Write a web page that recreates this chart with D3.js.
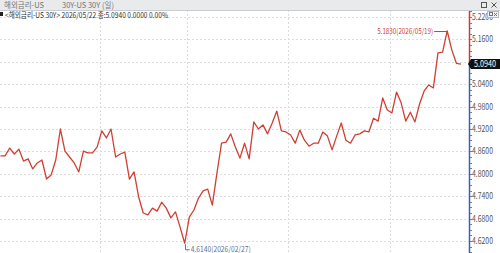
<!DOCTYPE html>
<html>
<head>
<meta charset="utf-8">
<script src="https://cdn.jsdelivr.net/npm/d3@7"></script>
<style>
  body { margin: 0; background: #fff; }
  svg { display: block; font-family: "Noto Sans CJK KR", "Liberation Sans", sans-serif; }
</style>
</head>
<body>
<script>
// constants
const width = 500;
const height = 253;
const axisX = 469;

// data: daily close, US 30Y (percent)
const values = [
  4.848, 4.848, 4.869, 4.853, 4.866, 4.834, 4.840, 4.813, 4.829, 4.837,
  4.786, 4.797, 4.837, 4.920, 4.861, 4.845, 4.829, 4.805, 4.861, 4.856,
  4.856, 4.872, 4.915, 4.896, 4.920, 4.845, 4.853, 4.858, 4.786, 4.805,
  4.738, 4.695, 4.690, 4.708, 4.700, 4.724, 4.708, 4.682, 4.698, 4.657,
  4.614, 4.684, 4.703, 4.735, 4.754, 4.759, 4.716, 4.802, 4.882, 4.885,
  4.907, 4.872, 4.842, 4.882, 4.840, 4.939, 4.920, 4.931, 4.907, 4.936,
  4.968, 4.915, 4.912, 4.904, 4.882, 4.917, 4.890, 4.874, 4.882, 4.882,
  4.912, 4.901, 4.864, 4.901, 4.936, 4.890, 4.882, 4.904, 4.907, 4.915,
  4.912, 4.949, 4.941, 5.003, 4.971, 4.963, 5.019, 4.990, 4.941, 4.965,
  4.939, 4.987, 5.022, 5.038, 5.030, 5.124, 5.126, 5.183, 5.132, 5.096,
  5.094
];
// index of first trading day of each month (Feb, Mar, Apr, May)
const monthStarts = [22, 41, 63, 85];
const yTicks = [5.22, 5.16, 5.10, 5.04, 4.98, 4.92, 4.86, 4.80, 4.74, 4.68, 4.62];
const maxLabel = { index: 97, text: "5.1830(2026/05/19)" };
const minLabel = { index: 40, text: "4.6140(2026/02/27)" };
const lastLabel = "5.0940";
const headerTexts = ["해외금리-US", "30Y-US 30Y (일)"];
const legendText = "<해외금리-US 30Y> 2026/05/22 종:5.0940 0.0000 0.00%";

const svg = d3.select("body").append("svg")
    .attr("width", width)
    .attr("height", height);

const x = d3.scaleLinear()
    .domain([0, values.length - 1])
    .range([0.5, 461]);
const y = d3.scaleLinear()
    .domain([4.62, 5.22])
    .range([241, 17]);

// grid
svg.append("g")
    .selectAll("line")
    .data(yTicks)
    .join("line")
    .attr("x1", 0)
    .attr("x2", axisX)
    .attr("y1", d => Math.round(y(d)) + 0.5)
    .attr("y2", d => Math.round(y(d)) + 0.5)
    .style("stroke", "#dcdcdc")
    .style("stroke-dasharray", "2,2");

svg.append("g")
    .selectAll("line")
    .data(monthStarts)
    .join("line")
    .attr("x1", d => Math.round(x(d - 0.5)) + 0.5)
    .attr("x2", d => Math.round(x(d - 0.5)) + 0.5)
    .attr("y1", 10)
    .attr("y2", height)
    .style("stroke", "#dcdcdc")
    .style("stroke-dasharray", "2,2");

// header bar
svg.append("rect")
    .attr("x", 0).attr("y", 0)
    .attr("width", width).attr("height", 10)
    .style("fill", "#e9eaec");
svg.append("line")
    .attr("x1", 0).attr("x2", width)
    .attr("y1", 10.5).attr("y2", 10.5)
    .style("stroke", "#c9ccd1");
svg.append("text")
    .attr("x", 4).attr("y", 8)
    .attr("textLength", 40).attr("lengthAdjust", "spacingAndGlyphs")
    .style("font-size", "8px").style("fill", "#777")
    .text(headerTexts[0]);
svg.append("text")
    .attr("x", 62).attr("y", 8)
    .attr("textLength", 52).attr("lengthAdjust", "spacingAndGlyphs")
    .style("font-size", "8px").style("fill", "#777")
    .text(headerTexts[1]);
// window buttons
svg.append("rect")
    .attr("x", 481.5).attr("y", 2.5).attr("width", 5).attr("height", 5)
    .style("fill", "none").style("stroke", "#555");
svg.append("path")
    .attr("d", "M491.5,2.5 L496.5,7.5 M496.5,2.5 L491.5,7.5")
    .style("stroke", "#555");

// legend line
svg.append("rect")
    .attr("x", 0).attr("y", 12).attr("width", 3).attr("height", 4)
    .style("fill", "#222");
svg.append("text")
    .attr("x", 5).attr("y", 17.5)
    .attr("textLength", 163).attr("lengthAdjust", "spacingAndGlyphs")
    .style("font-size", "8px").style("fill", "#333")
    .text(legendText);

// line
svg.append("path")
    .datum(values)
    .attr("d", d3.line().x((d, i) => x(i)).y(d => y(d)))
    .style("fill", "none")
    .style("stroke", "#cf3f33")
    .style("stroke-width", 1.3)
    .style("stroke-linejoin", "round");

// max annotation
const mx = x(maxLabel.index), my = y(values[maxLabel.index]);
svg.append("line")
    .attr("x1", mx - 13).attr("x2", mx)
    .attr("y1", Math.round(my) + 0.5).attr("y2", Math.round(my) + 0.5)
    .style("stroke", "#cf3f33");
svg.append("text")
    .attr("x", mx - 14).attr("y", my + 3)
    .attr("text-anchor", "end")
    .attr("textLength", 56).attr("lengthAdjust", "spacingAndGlyphs")
    .style("font-size", "8px").style("fill", "#cf3f33")
    .text(maxLabel.text);

// min annotation
const nx = x(minLabel.index), ny = y(values[minLabel.index]);
svg.append("path")
    .attr("d", `M${Math.round(nx) + 0.5},${ny + 1} V${ny + 6.5} H${nx + 5}`)
    .style("fill", "none")
    .style("stroke", "#5f7390");
svg.append("text")
    .attr("x", nx + 6).attr("y", ny + 9)
    .attr("textLength", 60).attr("lengthAdjust", "spacingAndGlyphs")
    .style("font-size", "8px").style("fill", "#5f7390")
    .text(minLabel.text);

// right axis
const lastY = y(values[values.length - 1]);
svg.append("line")
    .attr("x1", axisX + 0.5).attr("x2", axisX + 0.5)
    .attr("y1", 11).attr("y2", lastY)
    .style("stroke", "#d23a2e").style("stroke-width", 1.5);
svg.append("line")
    .attr("x1", axisX + 0.5).attr("x2", axisX + 0.5)
    .attr("y1", lastY).attr("y2", height)
    .style("stroke", "#3c63a8").style("stroke-width", 1.5);

const minorTicks = d3.range(4.575, 5.235, 0.015);
svg.append("g")
    .selectAll("line")
    .data(minorTicks)
    .join("line")
    .attr("x1", axisX + 1)
    .attr("x2", axisX + 3)
    .attr("y1", d => Math.round(y(d)) + 0.5)
    .attr("y2", d => Math.round(y(d)) + 0.5)
    .style("stroke", "#6a7fa8");

svg.append("g")
    .selectAll("text")
    .data(yTicks.filter(d => Math.abs(y(d) - lastY) > 8))
    .join("text")
    .attr("x", axisX + 3)
    .attr("y", d => y(d) + 3)
    .attr("textLength", 21).attr("lengthAdjust", "spacingAndGlyphs")
    .style("font-size", "8.5px").style("fill", "#555")
    .text(d => d3.format(".4f")(d));

// last value tag
svg.append("path")
    .attr("d", `M${axisX - 1},${lastY} L${axisX + 2},${lastY - 5} H${width} V${lastY + 5} H${axisX + 2} Z`)
    .style("fill", "#111");
svg.append("text")
    .attr("x", axisX + 5).attr("y", lastY + 3)
    .attr("textLength", 22).attr("lengthAdjust", "spacingAndGlyphs")
    .style("font-size", "8.5px").style("fill", "#fff")
    .text(lastLabel);

// small panel buttons at top of axis
svg.append("rect")
    .attr("x", 487.5).attr("y", 11.5).attr("width", 11).attr("height", 6)
    .style("fill", "#f2f2f2").style("stroke", "#bbb");
svg.append("rect")
    .attr("x", 489.5).attr("y", 12.5).attr("width", 3).attr("height", 3)
    .style("fill", "none").style("stroke", "#777");
svg.append("path")
    .attr("d", "M494,13 L497,16 M497,13 L494,16")
    .style("stroke", "#777");
</script>
</body>
</html>
